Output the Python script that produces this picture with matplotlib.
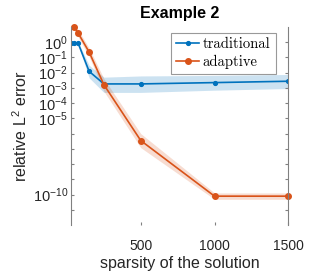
import numpy as np
import matplotlib
matplotlib.use("Agg")
import matplotlib.pyplot as plt
from matplotlib.ticker import FixedLocator, FixedFormatter, NullLocator

# datos
x_trad = [25, 50, 75, 150, 250, 500, 1000, 1500]
err_trad = [0.86, 0.86, 0.86, 0.012, 1.8e-3, 1.8e-3, 2.2e-3, 2.7e-3]
low_trad = [0.7, 0.7, 0.7, 4.5e-3, 5e-4, 5e-4, 7e-4, 9e-4]
up_trad = [1.05, 1.05, 1.05, 0.03, 5e-3, 6e-3, 6.5e-3, 7.5e-3]

x_adap = [50, 75, 150, 250, 500, 1000, 1500]
err_adap = [9.5, 3.9, 0.22, 1.6e-3, 3.5e-7, 8e-11, 8e-11]
low_adap = [5.5, 2.2, 0.11, 6e-4, 1.2e-7, 5e-11, 5e-11]
up_adap = [16, 6.5, 0.4, 4e-3, 1e-6, 1.3e-10, 1.3e-10]

ytick_vals = [10.0**k for k in range(-11, 1)]
ytick_text = {0: r'$10^{0}$', -1: r'$10^{-1}$', -2: r'$10^{-2}$', -3: r'$10^{-3}$',
              -4: r'$10^{-4}$', -5: r'$10^{-5}$', -10: r'$10^{-10}$'}

blue = '#0072BD'
orange = '#D95319'

plt.rcParams['font.family'] = ['Liberation Sans', 'DejaVu Sans']
plt.rcParams['mathtext.fontset'] = 'custom'
plt.rcParams['mathtext.rm'] = 'Liberation Sans'
plt.rcParams['mathtext.it'] = 'Liberation Sans'
plt.rcParams['axes.unicode_minus'] = False

fig = plt.figure(figsize=(3.19, 2.73), dpi=100)
ax = fig.add_axes([0.2216, 0.175, 0.6822, 0.727])

ax.fill_between(x_trad, low_trad, up_trad, color=blue, alpha=0.2, lw=0)
ax.fill_between(x_adap, low_adap, up_adap, color=orange, alpha=0.2, lw=0)
ax.plot(x_trad, err_trad, '-', color=blue, marker='.', ms=5.5, lw=1.2, label='traditional')
ax.plot(x_adap, err_adap, '-', color=orange, marker='o', ms=4, lw=1.2, label='adaptive',
        clip_on=False)

ax.set_yscale('log')
ax.set_xlim(25, 1500)
ax.set_ylim(1e-12, 1e1)
ax.yaxis.set_major_locator(FixedLocator(ytick_vals))
ax.yaxis.set_major_formatter(FixedFormatter(
    [ytick_text.get(int(round(np.log10(v))), '') for v in ytick_vals]))
ax.yaxis.set_minor_locator(NullLocator())
ax.set_xticks([500, 1000, 1500])

for s in ['top', 'bottom']:
    ax.spines[s].set_visible(False)
for s in ['left', 'right']:
    ax.spines[s].set_color('#808080')
    ax.spines[s].set_linewidth(0.8)
ax.tick_params(axis='y', which='major', direction='in', length=2.5, right=True,
               color='#808080', labelsize=10.5, labelcolor='#262626', pad=2)
ax.tick_params(axis='x', direction='in', length=2.5, color='#808080',
               labelsize=10, labelcolor='#262626', pad=10)

ax.set_xlabel('sparsity of the solution', fontsize=11.5, color='#262626', labelpad=2)
ax.set_ylabel(r'relative L$^2$ error', fontsize=11.5, color='#262626', labelpad=2)
ax.set_title('Example 2', fontsize=11.5, fontweight='bold', pad=6)

leg = ax.legend(loc='upper right', bbox_to_anchor=(0.955, 0.985),
                prop={'family': 'cmr10', 'size': 10.5},
                frameon=True, fancybox=False, handlelength=1.6, handletextpad=0.25,
                borderpad=0.35, labelspacing=0.25, borderaxespad=0.2)
leg.get_frame().set_edgecolor('#808080')
leg.get_frame().set_linewidth(0.8)

fig.savefig('out.png', dpi=100)
